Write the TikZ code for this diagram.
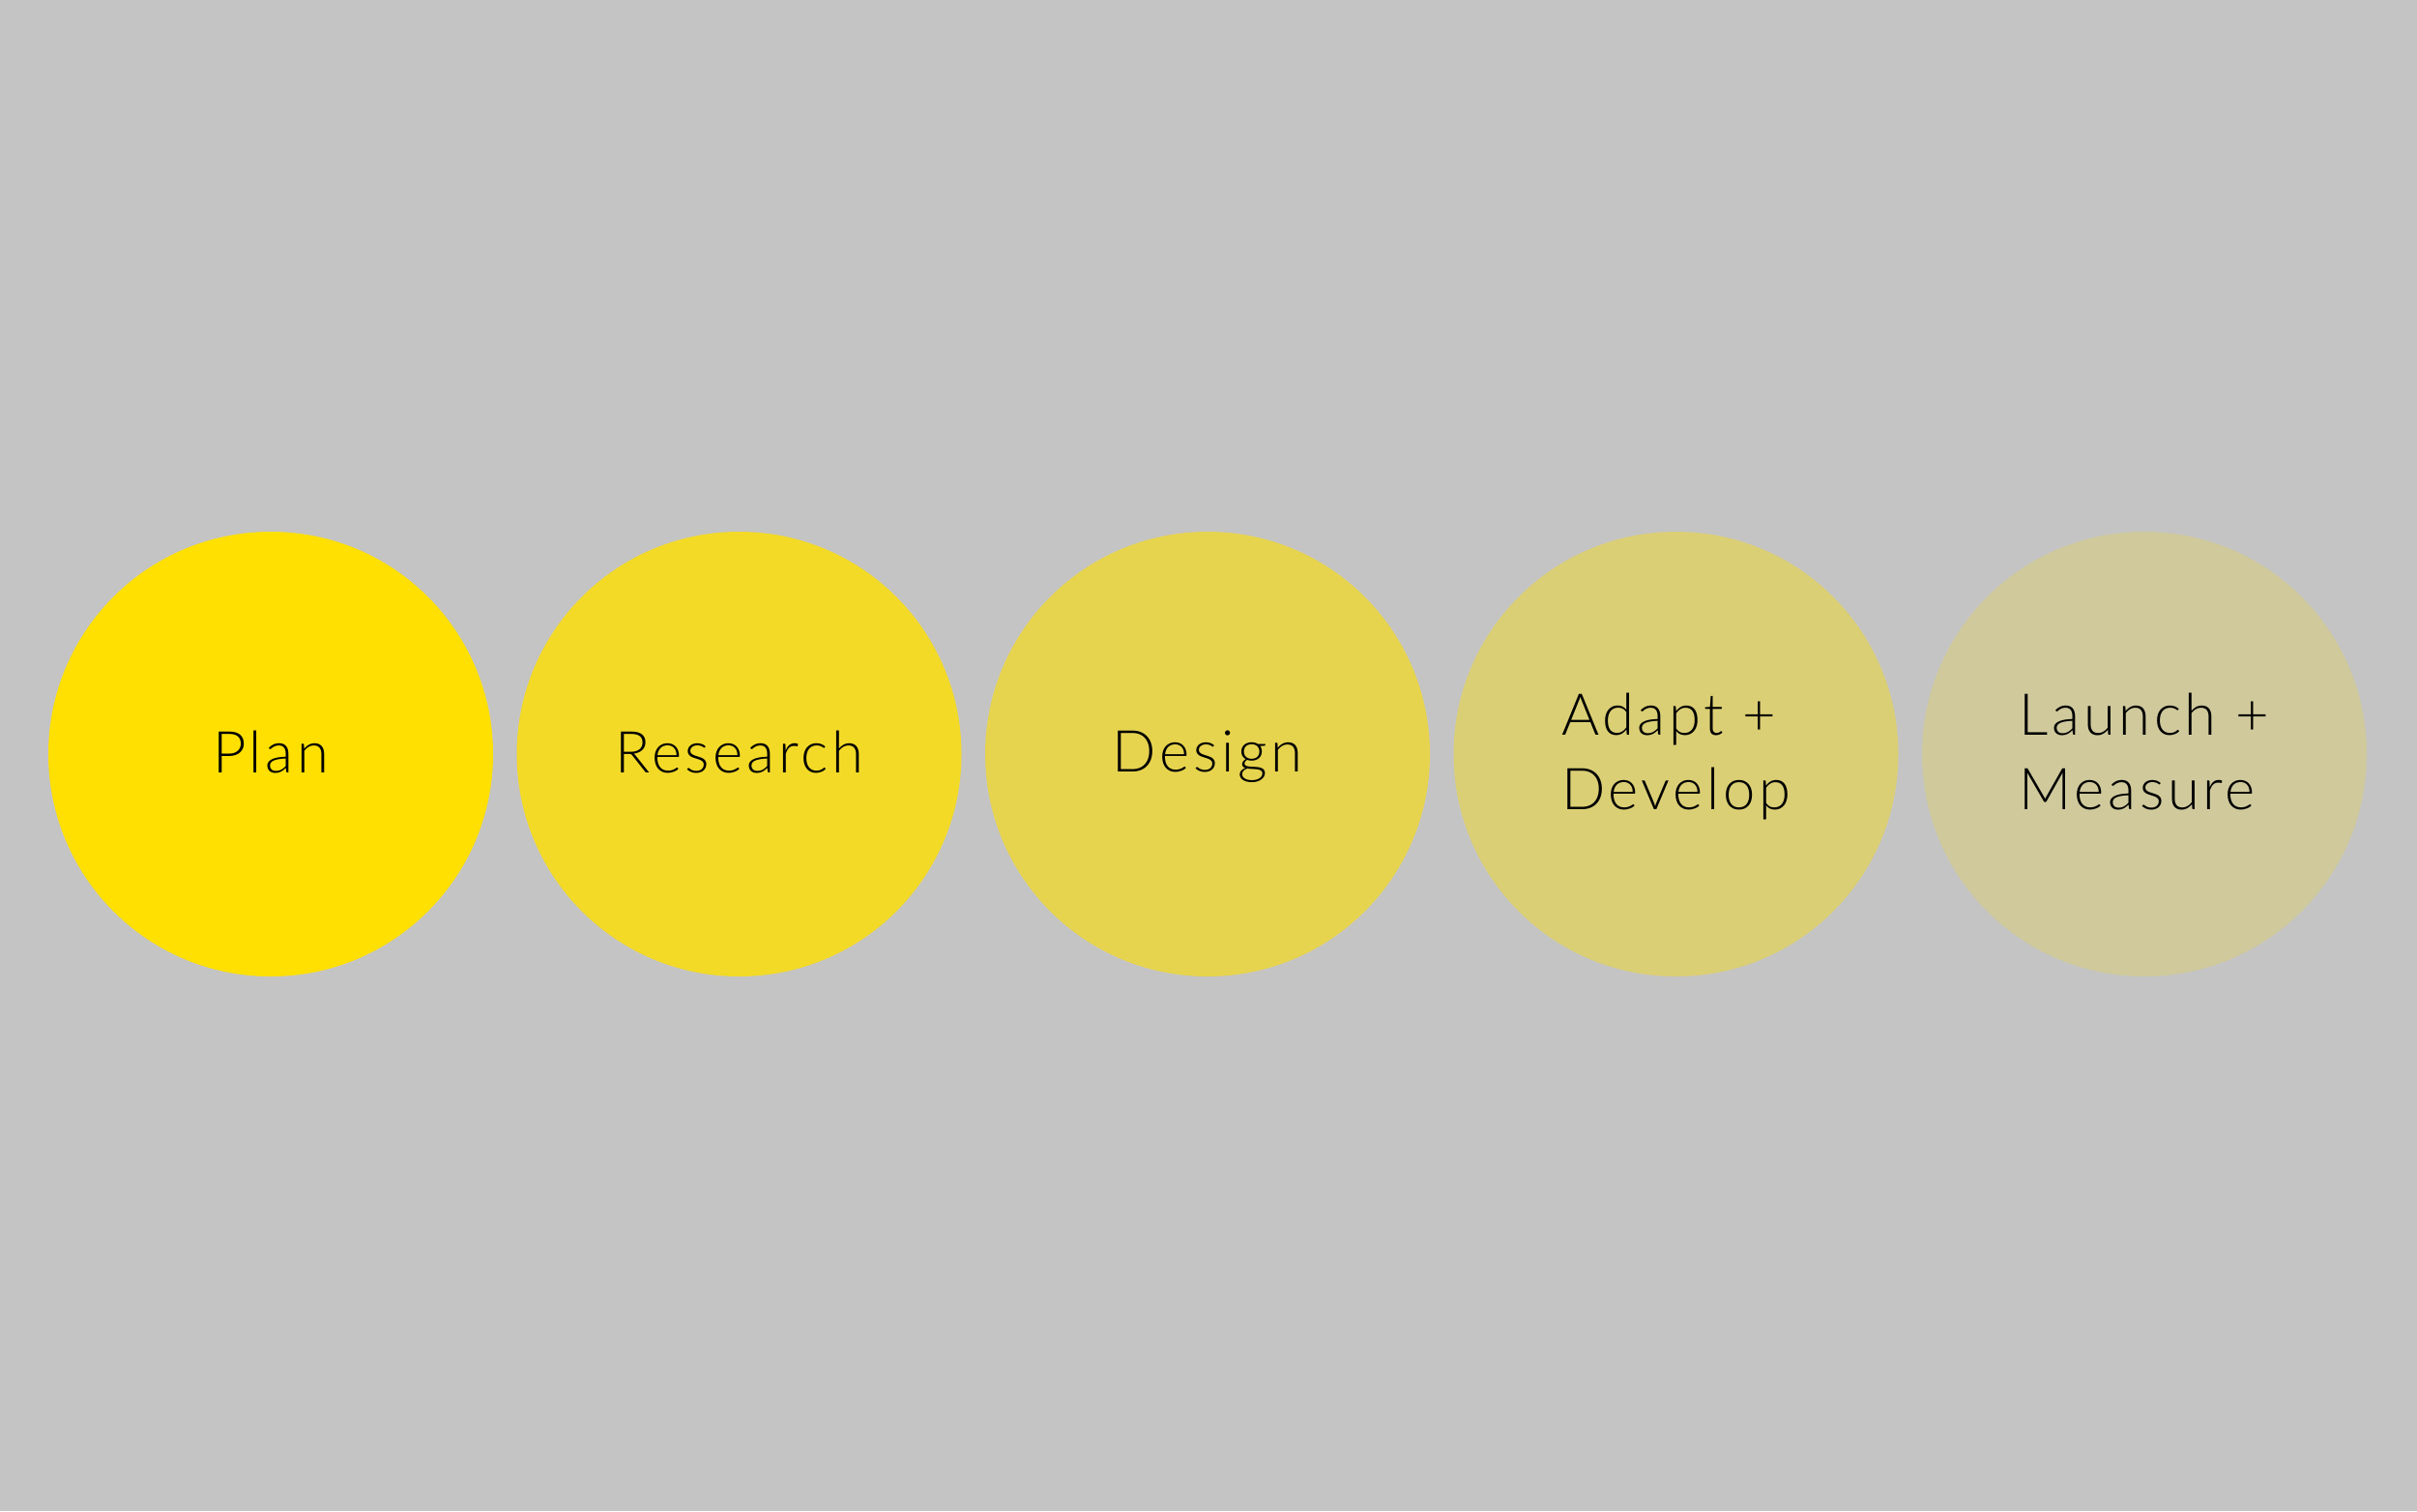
\documentclass[tikz,border=0pt]{standalone}
\usepackage{fontspec}
\setmainfont{Lato Light}[LetterSpace=6]
\usetikzlibrary{positioning}
\definecolor{backgray}{HTML}{C4C4C4}
\definecolor{stageyellow}{HTML}{FFE000}
\tikzset{
every stage/.style={circle, minimum size=4.6cm, inner sep=0pt, align=left,
    text depth=0.15em, font=\fontsize{17}{21.8}\selectfont},
stage/.style={every stage, fill=stageyellow, fill opacity=#1, text opacity=1},
}
\newcommand{\gap}{4.845cm}

\begin{document}
\begin{tikzpicture}
    \fill[backgray] (-2.8,-7.83) rectangle (22.2,7.8);
    \useasboundingbox (-2.8,-7.83) rectangle (22.2,7.8);
    \node[stage=1] (plan) {Plan};
    \node[stage=.8, xshift=\gap] (research) {Research};
    \node[stage=.6, xshift=2*\gap] (design) {Design};
    \node[stage=.4, xshift=3*\gap] (develop) {Adapt +\\Develop};
    \node[stage=.2, xshift=4*\gap] (measure) {Launch +\\Measure};
\end{tikzpicture}
\end{document}
